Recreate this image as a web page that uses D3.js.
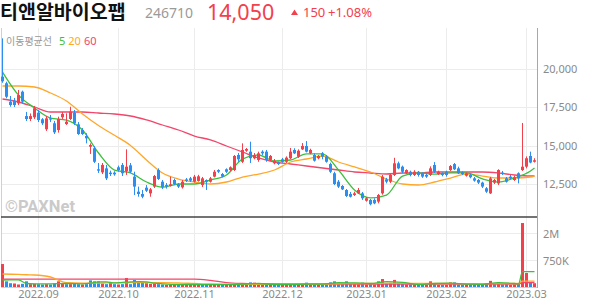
<!DOCTYPE html>
<html>
<head>
<meta charset="utf-8">
<script src="https://cdn.jsdelivr.net/npm/d3@7"></script>
<style>
html, body { margin: 0; padding: 0; background: #fff; }
svg { display: block; font-family: "Noto Sans", "Noto Sans CJK KR", sans-serif; }
</style>
</head>
<body>
<div id="chart"></div>
<script>

// trading days shown on the chart
var dates = [
 "2022-08-19","2022-08-22","2022-08-23","2022-08-24","2022-08-25","2022-08-26","2022-08-29","2022-08-30","2022-08-31",
 "2022-09-01","2022-09-02","2022-09-05","2022-09-06","2022-09-07","2022-09-08","2022-09-13","2022-09-14","2022-09-15","2022-09-16",
 "2022-09-19","2022-09-20","2022-09-21","2022-09-22","2022-09-23","2022-09-26","2022-09-27","2022-09-28","2022-09-29","2022-09-30",
 "2022-10-04","2022-10-05","2022-10-06","2022-10-07","2022-10-11","2022-10-12","2022-10-13","2022-10-14","2022-10-17","2022-10-18",
 "2022-10-19","2022-10-20","2022-10-21","2022-10-24","2022-10-25","2022-10-26","2022-10-27","2022-10-28","2022-10-31",
 "2022-11-01","2022-11-02","2022-11-03","2022-11-04","2022-11-07","2022-11-08","2022-11-09","2022-11-10","2022-11-11","2022-11-14",
 "2022-11-15","2022-11-16","2022-11-17","2022-11-18","2022-11-21","2022-11-22","2022-11-23","2022-11-24","2022-11-25","2022-11-28",
 "2022-11-29","2022-11-30",
 "2022-12-01","2022-12-02","2022-12-05","2022-12-06","2022-12-07","2022-12-08","2022-12-09","2022-12-12","2022-12-13","2022-12-14",
 "2022-12-15","2022-12-16","2022-12-19","2022-12-20","2022-12-21","2022-12-22","2022-12-23","2022-12-26","2022-12-27","2022-12-28",
 "2022-12-29",
 "2023-01-02","2023-01-03","2023-01-04","2023-01-05","2023-01-06","2023-01-09","2023-01-10","2023-01-11","2023-01-12","2023-01-13",
 "2023-01-16","2023-01-17","2023-01-18","2023-01-19","2023-01-20","2023-01-25","2023-01-26","2023-01-27","2023-01-30","2023-01-31",
 "2023-02-01","2023-02-02","2023-02-03","2023-02-06","2023-02-07","2023-02-08","2023-02-09","2023-02-10","2023-02-13","2023-02-14",
 "2023-02-15","2023-02-16","2023-02-17","2023-02-20","2023-02-21","2023-02-22","2023-02-23","2023-02-24","2023-02-27","2023-02-28",
 "2023-03-02","2023-03-03","2023-03-06"
];

var opens = [19500,19070,17870,17930,17760,18520,16930,16740,16850,17150,16720,16070,16780,16460,16020,16850,16410,16740,17150,16390,
 16020,15630,14930,14830,13460,13260,13520,13240,13240,13590,13740,13350,13720,12980,12000,11850,12260,11890,12330,13410,
 12650,12430,12370,12760,12480,12280,12800,12870,12650,12700,12430,12760,12650,12980,13410,13150,13460,13410,13410,14390,
 13950,14670,14610,14180,14070,14610,14610,14070,13850,13890,14110,13950,14180,14720,14280,14760,14980,14500,14390,14180,
 14500,14280,13800,13200,12650,12370,12110,11850,11780,11890,11890,11410,11460,11460,11350,11890,12800,12650,13090,13850,
 13630,13200,13300,13090,13300,13200,13090,13090,13740,13150,13200,13300,13410,13800,13520,13260,13040,13090,12870,12760,
 12590,12220,11890,12590,12540,13240,12870,12980,12760,13200,13410,13630,14330,13950];
var highs = [22000,19170,18240,18110,18630,18590,17200,17100,17590,17330,16800,16930,17000,16610,16890,17200,17110,17540,17330,16540,
 16150,15810,15150,14980,13870,13870,13740,13370,13330,13700,13870,14760,13870,13300,12330,12110,12430,12240,13090,13520,
 12760,12560,12980,12850,12560,12760,12890,12960,13090,13100,12960,12800,12960,13410,13460,13220,13520,13650,14390,14520,
 15150,14850,15260,14520,14610,14700,14720,14390,14130,13960,14200,14300,14850,14830,14760,15170,15300,14800,14500,14390,
 14580,14390,13890,13300,12760,12430,12170,11980,12000,12240,11980,11650,11520,11570,11850,13090,12900,13150,14210,13960,
 13700,13460,13370,13400,13350,13260,13200,13650,13930,13370,13260,13370,13740,13870,13630,13330,13260,13150,12960,12830,
 12650,12300,12960,12830,13460,13350,12960,13090,13040,13260,16480,14300,14610,14180];
var lows = [19100,18090,17540,17520,17650,17760,16610,16600,16740,16540,16350,15960,16540,15760,15850,16740,16350,16670,16350,15700,
 15700,15150,14460,13870,13220,13150,12760,13020,13040,13300,13020,13090,13220,11780,11670,11570,11980,11670,12240,12760,
 12170,12200,12330,12430,12240,12200,12630,12630,12590,12650,12300,12110,12590,12930,13220,12930,13220,13350,13350,13950,
 13870,14600,13870,14110,13950,14390,13950,13990,13780,13740,13890,13870,14130,14460,14200,14720,14560,14440,13960,14110,
 14110,13890,13220,12430,12240,12110,11650,11620,11720,11850,11460,11350,11110,11180,11240,11800,12540,12560,13020,13460,
 13200,13150,13000,13020,12980,12900,12900,13020,13220,13090,13000,12980,13350,13410,13150,13090,12980,12870,12650,12500,
 12240,11920,11850,12500,12430,13090,12590,12800,12700,12540,13350,13520,13850,13900];
var closes = [19200,18190,17650,17650,18300,17870,16740,16930,17440,16670,16460,16780,16720,15870,16740,17070,16560,17220,16460,15760,
 15760,15480,15040,13950,13370,13740,12870,13150,13130,13410,13200,13630,13300,12330,11850,11670,12060,12150,13020,12830,
 12280,12330,12480,12500,12330,12650,12700,12720,12980,13000,12870,12650,12870,13300,13300,12980,13300,13590,14330,14110,
 14720,14780,14180,14390,14500,14500,14070,14330,14020,13800,13950,14220,14610,14500,14670,14980,14610,14720,14020,14330,
 14280,13950,13300,12500,12330,12150,11720,11670,11890,12110,11570,11570,11180,11240,11780,12980,12650,13090,13850,13520,
 13300,13410,13090,13300,13090,12980,12980,13520,13300,13300,13090,13090,13670,13460,13200,13150,13200,12940,12720,12590,
 12330,12000,12870,12760,13410,13150,12650,12870,12940,12870,13630,14180,13900,14050];
var volumes = [590000,80000,45000,40000,25000,35000,80000,30000,35000,30000,25000,30000,25000,40000,80000,35000,30000,30000,35000,30000,
 25000,30000,100000,80000,80000,40000,30000,65000,30000,25000,30000,155000,30000,110000,55000,55000,45000,35000,40000,30000,
 25000,20000,25000,20000,20000,25000,20000,20000,25000,20000,25000,20000,20000,25000,20000,20000,20000,25000,35000,25000,
 40000,25000,60000,55000,25000,20000,25000,20000,20000,18000,20000,20000,30000,20000,25000,30000,55000,25000,25000,20000,
 20000,25000,60000,80000,35000,30000,80000,40000,35000,30000,55000,25000,30000,25000,80000,130000,40000,50000,110000,40000,
 30000,25000,25000,25000,20000,20000,20000,80000,35000,20000,20000,20000,60000,60000,25000,20000,20000,20000,25000,25000,
 35000,40000,90000,30000,65000,25000,30000,20000,25000,30000,2550000,290000,70000,45000];

// moving averages at these day indexes
var maIdx = [0,4,8,12,16,20,24,28,32,36,40,44,48,52,56,60,64,68,72,76,80,84,88,92,96,100,104,108,112,116,120,124,128,132,133];
var ma5 = [19800,18300,17460,16800,16670,16020,14520,13410,13220,12630,12300,12500,12500,12760,13090,14130,14390,14000,14065,14460,
 14460,13410,12110,11590,11780,13020,13220,13150,13220,13220,12830,12630,12890,13350,13540];
var ma20 = [18890,18890,18826,18435,17913,17065,16315,15676,15010,14065,13217,12826,12630,12500,12630,12956,13150,13413,13935,14130,
 14326,13935,13609,13283,12826,12500,12435,12630,12890,13150,13020,12890,12890,12956,13020];
var ma60 = [18043,17848,17522,17196,17196,17196,17130,17065,16935,16674,16348,16022,15630,15370,14978,14587,14196,13935,13804,13674,
 13543,13413,13283,13217,13152,13217,13217,13283,13283,13283,13283,13217,13087,13022,13022];

var vmaIdx = [0,4,6,8,12,16,20,22,24,26,28,30,32,34,36,38,40,44,48,52,56,60,64,68,72,76,80,84,88,92,96,100,104,108,112,116,120,124,128,129,130,131,132,133];
var vma5 = [108000,110000,40000,35000,35000,40000,35000,45000,70000,70000,50000,60000,70000,75000,70000,45000,35000,25000,25000,22000,
 22000,30000,40000,25000,22000,30000,30000,55000,50000,40000,75000,60000,25000,40000,45000,30000,28000,55000,40000,35000,
 330000,330000,330000,330000];
var vma20 = [262000,250000,240000,234000,180000,55000,48000,48000,48000,50000,50000,52000,55000,55000,55000,55000,55000,50000,40000,32000,
 30000,28000,28000,28000,28000,30000,30000,35000,40000,40000,45000,45000,42000,40000,40000,38000,38000,40000,40000,40000,
 85000,85000,85000,85000];
var vma60 = [130000,130000,130000,130000,130000,130000,130000,130000,130000,130000,130000,130000,130000,130000,130000,130000,130000,130000,130000,100000,
 55000,40000,35000,33000,32000,32000,32000,32000,32000,32000,32000,32000,32000,32000,32000,32000,32000,32000,32000,32000,
 55000,55000,57000,58000];

var priceTicks = [12500, 15000, 17500, 20000];
var volTicks = [750000, 2000000];
var monthLabels = ["2022.09","2022.10","2022.11","2022.12","2023.01","2023.02","2023.03"];

var w = 594, h = 304;
var left = 1, right = 537;
var pTop = 28, pBottom = 216, vBottom = 287;

var upColor = "#f2404d", downColor = "#2b8ef0";
var c5 = "#3cbf3c", c20 = "#ffa726", c60 = "#f2466a";

var svg = d3.select("#chart").append("svg")
	.attr("width", w)
	.attr("height", h);

var xScale = d3.scaleBand()
	.domain(dates)
	.range([0, 536])
	.padding(0);
var bw = xScale.bandwidth();
function cx(i){ return xScale(dates[i]) + bw/2 + 0.5; }

var yScale = d3.scaleLinear()
	.domain([12500, 20000])
	.range([184, 69]);

var vScale = d3.scalePow().exponent(0.7)
	.domain([0, 2900000])
	.range([vBottom, 217]);

// month positions = first trading day of each month
var monthIdx = monthLabels.map(function(m){
	var key = m.replace(".", "-");
	return dates.findIndex(function(d){ return d.indexOf(key) === 0; });
});

//grid
var grid = svg.append("g").attr("stroke", "#ececec").attr("stroke-width", 1);
grid.selectAll(".vg").data(monthIdx).enter().append("line")
	.attr("x1", function(i){ return Math.round(cx(i)) - 0.5; })
	.attr("x2", function(i){ return Math.round(cx(i)) - 0.5; })
	.attr("y1", pTop).attr("y2", vBottom);
grid.selectAll(".hg").data(priceTicks).enter().append("line")
	.attr("x1", left).attr("x2", right)
	.attr("y1", function(d){ return Math.round(yScale(d)) + 0.5; })
	.attr("y2", function(d){ return Math.round(yScale(d)) + 0.5; });
grid.selectAll(".vhg").data(volTicks).enter().append("line")
	.attr("x1", left).attr("x2", right)
	.attr("y1", function(d){ return Math.round(vScale(d)) + 0.5; })
	.attr("y2", function(d){ return Math.round(vScale(d)) + 0.5; });

//watermark
svg.append("text")
	.attr("x", 5).attr("y", 212)
	.attr("font-size", 16.5).attr("font-weight", "bold")
	.attr("fill", "#cacaca")
	.attr("font-family", "Roboto, sans-serif")
	.text("©PAXNet");

//frame
svg.append("line").attr("x1", 1.5).attr("x2", 1.5).attr("y1", pTop).attr("y2", vBottom + 1).attr("stroke", "#d0d0d0");
svg.append("line").attr("x1", right + 0.5).attr("x2", right + 0.5).attr("y1", pTop).attr("y2", vBottom + 1).attr("stroke", "#a8a8a8");
svg.append("line").attr("x1", left).attr("x2", right).attr("y1", 217).attr("y2", 217).attr("stroke", "#444").attr("stroke-width", 1.6);
svg.append("line").attr("x1", left).attr("x2", right).attr("y1", vBottom + 0.5).attr("y2", vBottom + 0.5).attr("stroke", "#cfcfcf");

//moving average lines (price)
var maLine = d3.line()
	.x(function(d){ return cx(d[0]); })
	.y(function(d){ return yScale(d[1]); })
	.curve(d3.curveMonotoneX);
[[ma60, c60], [ma20, c20], [ma5, c5]].forEach(function(s){
	svg.append("path")
		.datum(maIdx.map(function(i, k){ return [i, s[0][k]]; }))
		.attr("d", maLine)
		.attr("fill", "none")
		.attr("stroke", s[1])
		.attr("stroke-width", 1.3);
});

//candles
var candles = svg.append("g").selectAll("g")
	.data(d3.range(dates.length))
	.enter().append("g")
	.attr("fill", function(i){ return closes[i] >= opens[i] ? upColor : downColor; })
	.attr("stroke", function(i){ return closes[i] >= opens[i] ? upColor : downColor; });
candles.append("line")
	.attr("x1", function(i){ return Math.round(cx(i)) - 0.5; })
	.attr("x2", function(i){ return Math.round(cx(i)) - 0.5; })
	.attr("y1", function(i){ return yScale(highs[i]); })
	.attr("y2", function(i){ return yScale(lows[i]); })
	.attr("stroke-width", 1);
candles.append("rect")
	.attr("stroke", "none")
	.attr("x", function(i){ return Math.round(cx(i)) - 2; })
	.attr("width", 3)
	.attr("y", function(i){ return yScale(Math.max(opens[i], closes[i])); })
	.attr("height", function(i){
		return Math.max(1.2, Math.abs(yScale(opens[i]) - yScale(closes[i])));
	});

//volume bars, coloured against the previous close
svg.append("g").selectAll("rect")
	.data(d3.range(dates.length))
	.enter().append("rect")
	.attr("x", function(i){ return Math.round(cx(i)) - 2; })
	.attr("width", 3)
	.attr("y", function(i){ return vScale(volumes[i]); })
	.attr("height", function(i){ return vBottom - vScale(volumes[i]); })
	.attr("fill", function(i){
		return (i === 0 || closes[i] >= closes[i-1]) ? upColor : downColor;
	});

//moving average lines (volume)
var vLine = d3.line()
	.x(function(d){ return cx(d[0]); })
	.y(function(d){ return vScale(d[1]); })
	.curve(d3.curveMonotoneX);
[[vma60, c60], [vma20, c20], [vma5, c5]].forEach(function(s){
	svg.append("path")
		.datum(vmaIdx.map(function(i, k){ return [i, s[0][k]]; }))
		.attr("d", vLine)
		.attr("fill", "none")
		.attr("stroke", s[1])
		.attr("stroke-width", 1.3);
});

//axis labels
svg.selectAll(".py").data(priceTicks).enter().append("text")
	.attr("x", 543)
	.attr("y", function(d){ return yScale(d) + 4; })
	.attr("font-size", 11)
	.attr("fill", "#8a8a8a")
	.text(d3.format(","));
svg.selectAll(".vy").data(volTicks).enter().append("text")
	.attr("x", 543)
	.attr("y", function(d){ return vScale(d) + 5; })
	.attr("font-size", 11)
	.attr("fill", "#8a8a8a")
	.text(function(d){ return d >= 1000000 ? d/1000000 + "M" : d/1000 + "K"; });
svg.selectAll(".mx").data(monthIdx).enter().append("text")
	.attr("x", function(i){ return Math.round(cx(i)) - 0.5; })
	.attr("y", 298)
	.attr("text-anchor", "middle")
	.attr("font-size", 11)
	.attr("fill", "#8a8a8a")
	.text(function(d, k){ return monthLabels[k]; });

//header
var last = closes[closes.length - 1], prev = closes[closes.length - 2];
var chg = last - prev;
svg.append("text").attr("x", 0).attr("y", 19)
	.attr("font-family", "'Noto Sans CJK KR', sans-serif")
	.attr("font-size", 19.5).attr("font-weight", "bold").attr("fill", "#111")
	.text("티앤알바이오팹");
svg.append("text").attr("x", 145).attr("y", 18)
	.attr("font-size", 14).attr("fill", "#9a9a9a")
	.text("246710");
svg.append("text").attr("x", 207).attr("y", 19.5)
	.attr("font-size", 21.5).attr("fill", upColor)
	.text(d3.format(",")(last));
svg.append("path")
	.attr("d", "M291,15 L294.5,9.5 L298,15 Z")
	.attr("fill", upColor);
svg.append("text").attr("x", 303).attr("y", 17)
	.attr("font-size", 13).attr("fill", upColor)
	.text(chg);
svg.append("text").attr("x", 328).attr("y", 17)
	.attr("font-size", 13).attr("fill", upColor)
	.text("+" + (chg / prev * 100).toFixed(2) + "%");

//legend
svg.append("text").attr("x", 6).attr("y", 45)
	.attr("font-family", "'Noto Sans CJK KR', sans-serif")
	.attr("font-size", 10).attr("fill", "#999")
	.text("이동평균선");
var leg = svg.append("text").attr("x", 59).attr("y", 45).attr("font-size", 11);
leg.append("tspan").attr("fill", c5).text("5");
leg.append("tspan").attr("dx", 3).attr("fill", c20).text("20");
leg.append("tspan").attr("dx", 3).attr("fill", c60).text("60");

</script>
</body>
</html>
